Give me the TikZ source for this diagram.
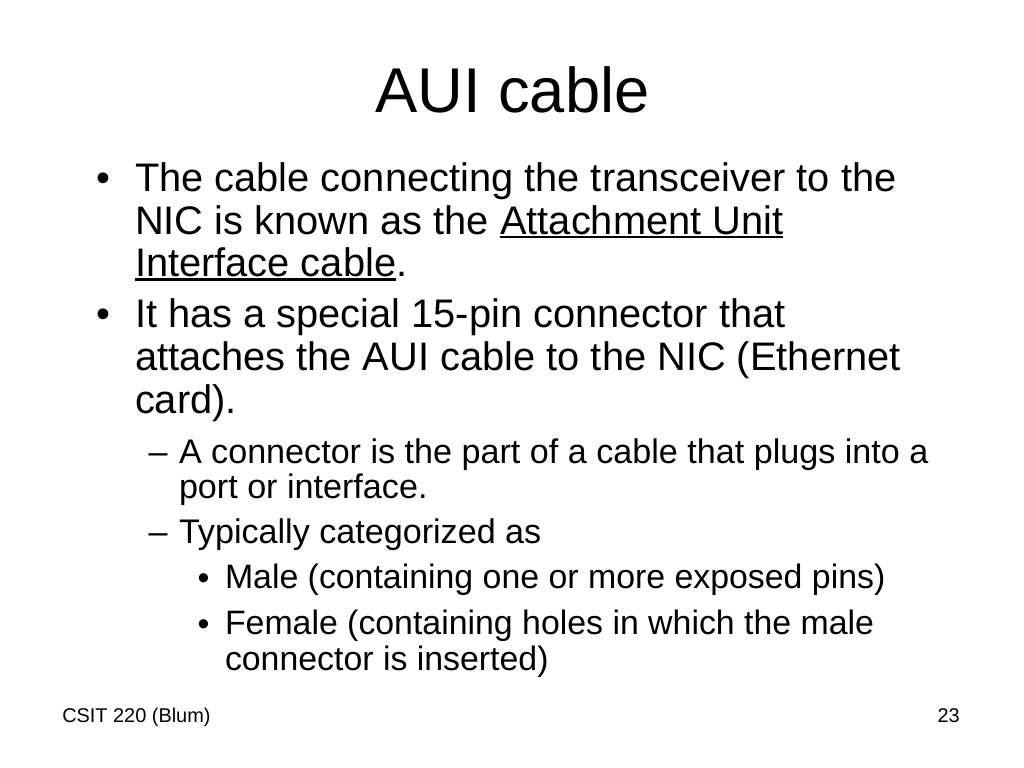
\documentclass[tikz,border=0pt]{standalone}
\usepackage{fontspec}
\setmainfont{Liberation Sans}
\newcommand\myul[1]{\setbox0\hbox{#1}\rlap{\rule[-0.1em]{\wd0}{0.07em}}\box0}
\tikzset{
  txt/.style={inner sep=0pt, outer sep=0pt, anchor=base west, text=black},
  ttl/.style={inner sep=0pt, anchor=base, font=\fontsize{44.5}{44.5}\selectfont},
  lvone/.style={txt, font=\fontsize{28}{28}\selectfont},
  lvtwo/.style={txt, font=\fontsize{24}{24}\selectfont},
  lvthree/.style={txt, font=\fontsize{23.8}{23.8}\selectfont},
  dotthree/.style={txt, font=\fontsize{23.8}{23.8}\selectfont},
  foot/.style={inner sep=0pt, font=\fontsize{14}{14}\selectfont}
}
\begin{document}
\begin{tikzpicture}[x=0.703125pt, y=-0.703125pt]
\fill[white] (0,0) rectangle (1024,768);
\useasboundingbox (0,0) rectangle (1024,768);
% title
\node[ttl] (title) at (512.5,113) {AUI cable};
% level 1
\node[lvone] (b1) at (96,192) {•};
\node[lvone] (l1) at (135,192) {The cable connecting the transceiver to the};
\node[lvone] (l2) at (135,234.5) {NIC is known as the \myul{Attachment Unit}};
\node[lvone] (l3) at (135,277) {\myul{Interface cable}.};
\node[lvone] (b2) at (96,328) {•};
\node[lvone] (l4) at (135,328) {It has a special 15-pin connector that};
\node[lvone] (l5) at (135,370.5) {attaches the AUI cable to the NIC (Ethernet};
\node[lvone] (l6) at (135,413) {card).};
% level 2
\node[lvtwo] (d1) at (148.5,463) {–};
\node[lvtwo] (s1) at (179,463) {A connector is the part of a cable that plugs into a};
\node[lvtwo] (s2) at (179,498) {port or interface.};
\node[lvtwo] (d2) at (148.5,543) {–};
\node[lvtwo] (s3) at (179,543) {Typically categorized as};
% level 3
\node[dotthree] (c1) at (197.5,589) {•};
\node[lvthree] (t1) at (225,588) {Male (containing one or more exposed pins)};
\node[dotthree] (c2) at (197.5,635) {•};
\node[lvthree] (t2) at (225,634) {Female (containing holes in which the male};
\node[lvthree] (t3) at (225,670) {connector is inserted)};
% footer
\node[foot, anchor=base west] (fl) at (62,722) {CSIT 220 (Blum)};
\node[foot, anchor=base east] (fr) at (960,722) {23};
\end{tikzpicture}
\end{document}
